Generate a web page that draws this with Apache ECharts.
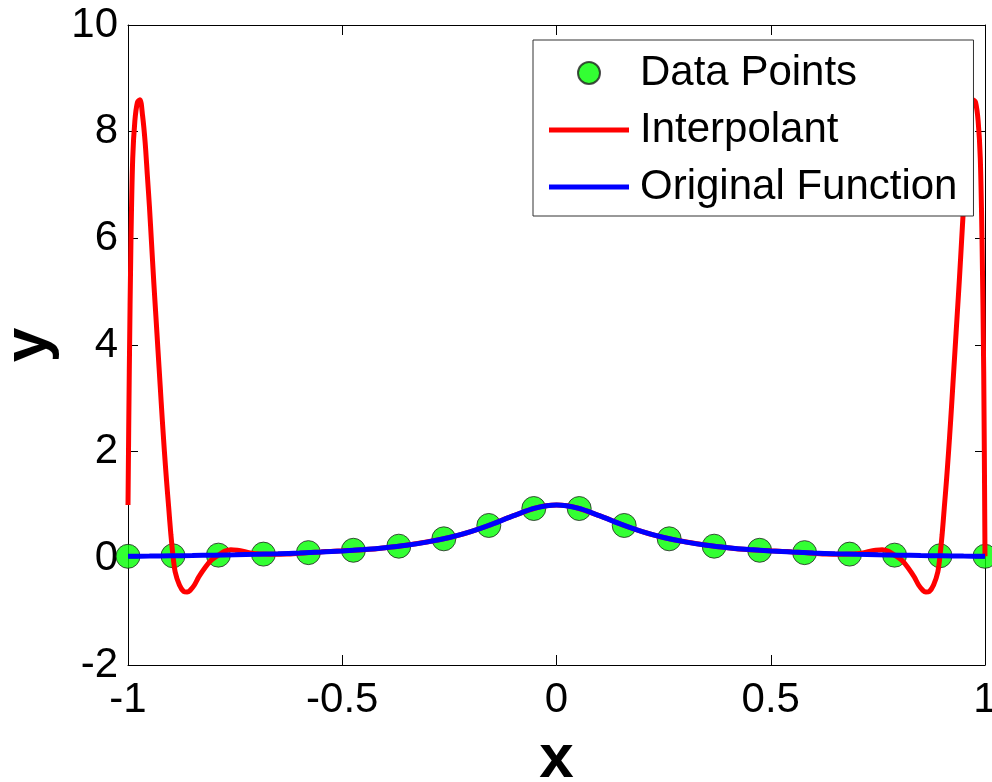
<!DOCTYPE html>
<html>
<head>
<meta charset="utf-8">
<script src="https://cdn.jsdelivr.net/npm/echarts@6/dist/echarts.min.js"></script>
<style>
  html, body { margin: 0; padding: 0; background: #fff; }
  #chart { width: 992px; height: 782px; }
</style>
</head>
<body>
<div id="chart"></div>
<script>
  // tick labels
  const xTicks = [-1, -0.5, 0, 0.5, 1];
  const yTicks = [-2, 0, 2, 4, 6, 8, 10];

  // sample nodes
  const nodeX = [-1, -0.895, -0.789, -0.684, -0.579, -0.474, -0.368, -0.263, -0.158, -0.053,
                 0.053, 0.158, 0.263, 0.368, 0.474, 0.579, 0.684, 0.789, 0.895, 1];
  const nodeY = [0.038, 0.048, 0.06, 0.079, 0.107, 0.151, 0.228, 0.366, 0.616, 0.934,
                 0.934, 0.616, 0.366, 0.228, 0.151, 0.107, 0.079, 0.06, 0.048, 0.038];

  // interpolant
  const interpX = [-1, -0.997, -0.993, -0.989, -0.984, -0.978, -0.972, -0.966, -0.96, -0.955,
                   -0.95, -0.945, -0.94, -0.935, -0.93, -0.925, -0.92, -0.915, -0.91, -0.905,
                   -0.9, -0.895, -0.89, -0.88, -0.87, -0.862, -0.855, -0.845, -0.835, -0.82,
                   -0.805, -0.789, -0.775, -0.76, -0.745, -0.73, -0.715, -0.7, -0.684, -0.66,
                   -0.63, -0.6, -0.579, -0.55, -0.52, -0.5, -0.474, -0.45, -0.42, -0.4,
                   -0.368, -0.34, -0.3, -0.263, -0.23, -0.2, -0.158, -0.12, -0.09, -0.053,
                   -0.025, 0,
                   0.025, 0.053, 0.09, 0.12, 0.158, 0.2, 0.23, 0.263, 0.3, 0.34,
                   0.368, 0.4, 0.42, 0.45, 0.474, 0.5, 0.52, 0.55, 0.579, 0.6,
                   0.63, 0.66, 0.684, 0.7, 0.715, 0.73, 0.745, 0.76, 0.775, 0.789,
                   0.805, 0.82, 0.835, 0.845, 0.855, 0.862, 0.87, 0.88, 0.89, 0.895,
                   0.9, 0.905, 0.91, 0.915, 0.92, 0.925, 0.93, 0.935, 0.94, 0.945,
                   0.95, 0.955, 0.96, 0.966, 0.972, 0.978, 0.984, 0.989, 0.993, 0.997, 1];
  const interpY = [1.0, 3.5, 6.0, 7.5, 8.2, 8.55, 8.6, 8.3, 7.8, 7.2,
                   6.6, 5.9, 5.2, 4.55, 3.9, 3.25, 2.6, 2.0, 1.45, 0.95,
                   0.45, 0.05, -0.25, -0.5, -0.62, -0.63, -0.6, -0.5, -0.35, -0.17,
                   -0.03, 0.06, 0.13, 0.16, 0.15, 0.13, 0.1, 0.085, 0.079, 0.075,
                   0.08, 0.095, 0.107, 0.12, 0.135, 0.14, 0.151, 0.163, 0.18, 0.198,
                   0.228, 0.26, 0.31, 0.366, 0.43, 0.5, 0.616, 0.74, 0.83, 0.934,
                   0.985, 1.0,
                   0.985, 0.934, 0.83, 0.74, 0.616, 0.5, 0.43, 0.366, 0.31, 0.26,
                   0.228, 0.198, 0.18, 0.163, 0.151, 0.14, 0.135, 0.12, 0.107, 0.095,
                   0.08, 0.075, 0.079, 0.085, 0.1, 0.13, 0.15, 0.16, 0.13, 0.06,
                   -0.03, -0.17, -0.35, -0.5, -0.6, -0.63, -0.62, -0.5, -0.25, 0.05,
                   0.45, 0.95, 1.45, 2.0, 2.6, 3.25, 3.9, 4.55, 5.2, 5.9,
                   6.6, 7.2, 7.8, 8.3, 8.6, 8.55, 8.2, 7.5, 6.0, 3.5, 0.04];

  // original function
  const origX = [-1, -0.95, -0.9, -0.85, -0.8, -0.75, -0.7, -0.65, -0.6, -0.55,
                 -0.5, -0.45, -0.4, -0.35, -0.3, -0.25, -0.2, -0.15, -0.1, -0.05,
                 0, 0.05, 0.1, 0.15, 0.2, 0.25, 0.3, 0.35, 0.4, 0.45,
                 0.5, 0.55, 0.6, 0.65, 0.7, 0.75, 0.8, 0.85, 0.9, 0.95, 1];
  const origY = [0.0385, 0.0424, 0.0471, 0.0525, 0.0588, 0.0664, 0.0755, 0.0865, 0.1, 0.117,
                 0.138, 0.165, 0.2, 0.246, 0.308, 0.39, 0.5, 0.64, 0.8, 0.941,
                 1, 0.941, 0.8, 0.64, 0.5, 0.39, 0.308, 0.246, 0.2, 0.165,
                 0.138, 0.117, 0.1, 0.0865, 0.0755, 0.0664, 0.0588, 0.0525, 0.0471, 0.0424, 0.0385];

  const zip = (xs, ys) => xs.map((x, i) => [x, ys[i]]);

  const FONT = '"Liberation Sans", Arial, sans-serif';
  const LINE_ICON = 'path://M0 0H80V5H0Z';

  const baseX = {
    type: 'value',
    min: xTicks[0],
    max: xTicks[xTicks.length - 1],
    interval: 0.5,
    splitLine: { show: false },
    axisLine: { onZero: false, lineStyle: { color: '#000', width: 1 } },
    axisTick: { inside: true, length: 10, lineStyle: { color: '#000' } }
  };
  const baseY = {
    type: 'value',
    min: yTicks[0],
    max: yTicks[yTicks.length - 1],
    interval: 2,
    splitLine: { show: false },
    axisLine: { onZero: false, lineStyle: { color: '#000', width: 1 } },
    axisTick: { inside: true, length: 10, lineStyle: { color: '#000' } }
  };

  var dom = document.getElementById('chart');
  var myChart = echarts.init(dom, null, { renderer: 'canvas' });
  var option = {
    animation: false,
    backgroundColor: '#fff',
    grid: { left: 128, right: 7, top: 25, bottom: 117, containLabel: false, outerBoundsMode: 'none' },
    xAxis: [
      Object.assign({}, baseX, {
        position: 'bottom',
        name: 'x',
        nameLocation: 'middle',
        nameGap: 64,
        nameTextStyle: { fontFamily: FONT, fontSize: 62, fontWeight: 'bold', color: '#000' },
        axisLabel: { margin: 14, fontFamily: FONT, fontSize: 42, color: '#000' }
      }),
      Object.assign({}, baseX, { position: 'top', axisLabel: { show: false } })
    ],
    yAxis: [
      Object.assign({}, baseY, {
        position: 'left',
        name: 'y',
        nameLocation: 'middle',
        nameGap: 66,
        nameTextStyle: { fontFamily: FONT, fontSize: 62, fontWeight: 'bold', color: '#000' },
        axisLabel: { margin: 10, fontFamily: FONT, fontSize: 42, color: '#000' }
      }),
      Object.assign({}, baseY, { position: 'right', axisLabel: { show: false } })
    ],
    legend: {
      orient: 'vertical',
      left: 533,
      top: 40,
      padding: [12, 16, 8, 16],
      backgroundColor: '#fff',
      borderColor: '#333',
      borderWidth: 1,
      itemWidth: 80,
      itemHeight: 22,
      itemGap: 15,
      data: [
        { name: 'Data Points' },
        { name: 'Interpolant', icon: LINE_ICON },
        { name: 'Original Function', icon: LINE_ICON }
      ],
      textStyle: { fontFamily: FONT, fontSize: 42, lineHeight: 42, color: '#000', padding: [0, 0, 0, 6] }
    },
    series: [
      {
        name: 'Data Points',
        type: 'scatter',
        data: zip(nodeX, nodeY),
        symbol: 'circle',
        symbolSize: 24,
        itemStyle: { color: '#00ff00', borderColor: '#222', borderWidth: 1 }
      },
      {
        name: 'Interpolant',
        type: 'line',
        data: zip(interpX, interpY),
        symbol: 'none',
        smooth: 0.3,
        lineStyle: { color: '#ff0000', width: 5 },
        itemStyle: { color: '#ff0000' }
      },
      {
        name: 'Original Function',
        type: 'line',
        data: zip(origX, origY),
        symbol: 'none',
        smooth: 0.3,
        lineStyle: { color: '#0000ff', width: 5 },
        itemStyle: { color: '#0000ff' }
      }
    ]
  };
  option && myChart.setOption(option);
</script>
</body>
</html>
